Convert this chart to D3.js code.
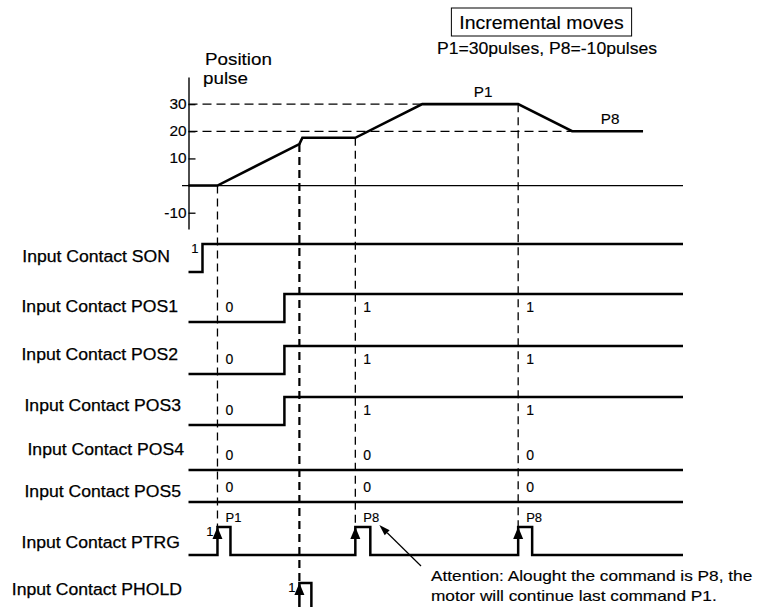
<!DOCTYPE html>
<html>
<head>
<meta charset="utf-8">
<script src="https://cdn.jsdelivr.net/npm/d3@7"></script>
<style>
  html, body { margin: 0; padding: 0; background: #fff; }
  svg { display: block; }
  text { font-family: "Liberation Sans", Arial, Helvetica, sans-serif; fill: #000; stroke: #000; stroke-width: 0.25px; }
</style>
</head>
<body>
<svg id="chart" width="758" height="607"></svg>
<script>
// ---- Data -------------------------------------------------------------
// Shared time base (arbitrary units) for the motion profile and the inputs
const timeDomain = [0, 495];

// Position profile: commanded position (pulses) against time
const profileTime  = [0, 29, 111, 114, 167, 234, 330, 384, 455];
const profilePulse = [0, 0, 15.3, 17.6, 17.6, 30, 30, 20, 20];
const pulseTicks = [-10, 10, 20, 30];
const pulseRefLevels = [30, 20];
const profileNames = ["P1", "P8"];
const profileNameTime = [295, 422];
const profileNameLevel = [30, 20];

// Moments where an input edge changes the motion
const eventTimes = [29, 111, 167, 330];
const eventSignal = ["Input Contact PTRG", "Input Contact PHOLD", "Input Contact PTRG", "Input Contact PTRG"];

// Input contacts: level at start and [time, new level] changes
const signalNames = [
  "Input Contact SON", "Input Contact POS1", "Input Contact POS2", "Input Contact POS3",
  "Input Contact POS4", "Input Contact POS5", "Input Contact PTRG", "Input Contact PHOLD"
];
const signalStartLevel = [0, 0, 0, 0, 0, 0, 0, 0];
const signalSpanStart = [0, 0, 0, 0, 0, 0, 0, 111];
const signalSpanEnd   = [495, 495, 495, 495, 495, 495, 495, 123];
const signalChanges = [
  [[14, 1]],
  [[96, 1]],
  [[96, 1]],
  [[96, 1]],
  [],
  [],
  [[29, 1], [42, 0], [167, 1], [182, 0], [330, 1], [344, 0]],
  [[111, 1], [123, 0]]
];
// Which signals mark their rising edges with an arrow
const signalEdgeArrow = [false, false, false, false, false, false, true, true];

// State annotations written along each contact
const stateLabelTime = [
  [], [29, 167, 330], [29, 167, 330], [29, 167, 330],
  [29, 167, 330], [29, 167, 330], [29, 167, 330], []
];
const stateLabelText = [
  [], ["0", "1", "1"], ["0", "1", "1"], ["0", "1", "1"],
  ["0", "0", "0"], ["0", "0", "0"], ["P1", "P8", "P8"], []
];
// "1" written just before a rising edge
const edgeLabelTime = [[14], [], [], [], [], [], [29], [111]];

const titleText = "Incremental moves";
const subtitleText = "P1=30pulses, P8=-10pulses";
const axisTitle = ["Position", "pulse"];
const noteLines = ["Attention: Alought the command is P8, the", "motor will continue last command P1."];
const noteTargetTime = 167;

// ---- Layout -----------------------------------------------------------
const svg = d3.select("#chart");
const x = d3.scaleLinear().domain(timeDomain).range([188.5, 683]);
const yP = d3.scaleLinear().domain([-16, 40]).range([229, 77]);
const profileAt = d3.scaleLinear().domain(profileTime).range(profilePulse);

const rowLow  = [272, 322, 374, 425, 470, 502, 555, 611];
const rowName = [262, 312, 360, 411, 455, 497, 548, 595];
const rowNameEnd = [170, 178, 178, 181, 184, 181, 180, 182];
const rowAmp = 28;
const rowY = (i, level) => rowLow[i] - level * rowAmp;

// Horizontally widen text the way the drawing's typeface runs
function stretch(sel, k) {
  sel.each(function () {
    const len = this.getComputedTextLength();
    this.setAttribute("textLength", len * k);
    this.setAttribute("lengthAdjust", "spacingAndGlyphs");
  });
  return sel;
}

// ---- Title block ------------------------------------------------------
const title = svg.append("text")
  .attr("x", 541.5).attr("y", 29)
  .attr("text-anchor", "middle")
  .style("font-size", "18px")
  .style("stroke-width", "0.15px")
  .text(titleText);
stretch(title, 1.08);
const tb = title.node().getBBox();
svg.insert("rect", "text")
  .attr("x", tb.x - 8).attr("y", 8)
  .attr("width", tb.width + 16).attr("height", 28)
  .attr("fill", "none").attr("stroke", "#000").attr("stroke-width", 1);

stretch(svg.append("text")
  .attr("x", 547).attr("y", 54)
  .attr("text-anchor", "middle")
  .style("font-size", "16px")
  .style("stroke-width", "0.15px")
  .text(subtitleText), 1.1);

// ---- Position profile ------------------------------------------------
const gAxis = svg.append("g").attr("transform", `translate(${x(0)},0)`);
gAxis.call(d3.axisLeft(yP).tickValues(pulseTicks)
    .tickSizeInner(-7).tickSizeOuter(0).tickPadding(2)
    .tickFormat(d => String(d)));
gAxis.select(".domain").attr("stroke", "#000").attr("stroke-width", 1.4);
gAxis.selectAll(".tick line").attr("stroke", "#000").attr("stroke-width", 1.3);
gAxis.selectAll(".tick text")
  .style("font-size", "14px")
  .style("stroke-width", "0.15px")
  .attr("font-family", null)
  .attr("fill", "#000");
stretch(gAxis.selectAll(".tick text"), 1.1);

svg.selectAll("text.axis-title").data(axisTitle).join("text")
  .attr("class", "axis-title")
  .attr("x", (d, i) => i === 0 ? 205 : 203)
  .attr("y", (d, i) => i === 0 ? 65 : 84)
  .style("font-size", "16.5px")
  .style("stroke-width", "0.15px")
  .text(d => d)
  .call(stretch, 1.14);

// zero line
svg.append("line")
  .attr("x1", 182).attr("x2", x(timeDomain[1]))
  .attr("y1", yP(0)).attr("y2", yP(0))
  .attr("stroke", "#000").attr("stroke-width", 1.3);

// reference levels, dashed up to where the profile first reaches them
pulseRefLevels.forEach(level => {
  const idx = profilePulse.findIndex((p, i) => p === level && i > 0);
  svg.append("line")
    .attr("x1", x(0)).attr("x2", x(profileTime[idx]))
    .attr("y1", yP(level)).attr("y2", yP(level))
    .attr("stroke", "#000").attr("stroke-width", 1.3)
    .attr("stroke-dasharray", "9,5");
});

// event markers
eventTimes.forEach((t, i) => {
  const row = signalNames.indexOf(eventSignal[i]);
  const thick = eventSignal[i] === "Input Contact PHOLD";
  svg.append("line")
    .attr("x1", x(t)).attr("x2", x(t))
    .attr("y1", yP(profileAt(t))).attr("y2", rowY(row, 1))
    .attr("stroke", "#000").attr("stroke-width", thick ? 2.2 : 1.3)
    .attr("stroke-dasharray", "8,5");
});

const profileData = profileTime.map((t, i) => [t, profilePulse[i]]);
svg.append("path")
  .datum(profileData)
  .attr("d", d3.line().x(d => x(d[0])).y(d => yP(d[1])))
  .attr("fill", "none").attr("stroke", "#000").attr("stroke-width", 2.6)
  .attr("stroke-linejoin", "miter");

profileNames.forEach((name, i) => {
  stretch(svg.append("text")
    .attr("x", x(profileNameTime[i])).attr("y", yP(profileNameLevel[i]) - 7)
    .attr("text-anchor", "middle")
    .style("font-size", "14.5px")
    .style("stroke-width", "0.15px")
    .text(name), 1.05);
});

// ---- Input contacts --------------------------------------------------
signalNames.forEach((name, i) => {
  stretch(svg.append("text")
    .attr("x", rowNameEnd[i]).attr("y", rowName[i])
    .attr("text-anchor", "end")
    .style("font-size", "16px")
    .text(name), 1.1);

  // waveform points
  const pts = [[signalSpanStart[i], signalStartLevel[i]]];
  let level = signalStartLevel[i];
  signalChanges[i].forEach(([t, v]) => { pts.push([t, level]); pts.push([t, v]); level = v; });
  pts.push([signalSpanEnd[i], level]);
  svg.append("path")
    .datum(pts)
    .attr("d", d3.line().x(d => x(d[0])).y(d => rowY(i, d[1])))
    .attr("fill", "none").attr("stroke", "#000").attr("stroke-width", 2.5)
    .attr("stroke-linejoin", "miter");

  if (signalEdgeArrow[i]) {
    signalChanges[i].filter(([t, v]) => v === 1).forEach(([t]) => {
      const tx = x(t), ty = rowY(i, 1);
      svg.append("path")
        .attr("d", `M${tx},${ty} L${tx - 5},${ty + 12} L${tx + 5},${ty + 12} Z`)
        .attr("fill", "#000");
    });
  }

  stateLabelTime[i].forEach((t, j) => {
    const isPos = stateLabelText[i][j].startsWith("P");
    svg.append("text")
      .attr("x", x(t) + 8)
      .attr("y", isPos ? rowY(i, 1) - 5 : rowLow[i] - 10)
      .style("font-size", isPos ? "13px" : "14px")
      .style("stroke-width", "0.15px")
      .text(stateLabelText[i][j]);
  });

  edgeLabelTime[i].forEach(t => {
    svg.append("text")
      .attr("x", x(t) - 4).attr("y", rowY(i, 1) + 9)
      .attr("text-anchor", "end")
      .style("font-size", "13px")
      .style("stroke-width", "0.15px")
      .text("1");
  });
});

// ---- Note with pointer ----------------------------------------------
const ptrg = signalNames.indexOf("Input Contact PTRG");
const tip = [x(noteTargetTime) + 24, rowY(ptrg, 1) - 2];
const tail = [421, 566];
const ang = Math.atan2(tip[1] - tail[1], tip[0] - tail[0]);
const hl = 11, hw = 3.5;
const base = [tip[0] - hl * Math.cos(ang), tip[1] - hl * Math.sin(ang)];
svg.append("line")
  .attr("x1", tail[0]).attr("y1", tail[1])
  .attr("x2", base[0]).attr("y2", base[1])
  .attr("stroke", "#000").attr("stroke-width", 1.2);
svg.append("path")
  .attr("d", `M${tip[0]},${tip[1]}
              L${base[0] + hw * Math.sin(ang)},${base[1] - hw * Math.cos(ang)}
              L${base[0] - hw * Math.sin(ang)},${base[1] + hw * Math.cos(ang)} Z`)
  .attr("fill", "#000");

noteLines.forEach((line, i) => {
  stretch(svg.append("text")
    .attr("x", 431).attr("y", 581 + i * 20)
    .style("font-size", "15px")
    .style("stroke-width", "0.15px")
    .text(line), 1.15);
});
</script>
</body>
</html>
